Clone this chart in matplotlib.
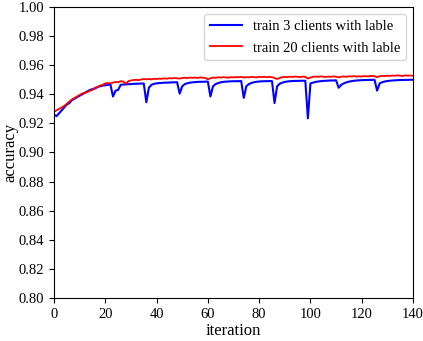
import numpy as np
import matplotlib
matplotlib.use('Agg')
import matplotlib.pyplot as plt

plt.rcParams['font.family'] = 'Liberation Serif'
plt.rcParams['mathtext.fontset'] = 'stix'

# accuracy per iteration (0..140)
acc_3 = [
    0.926, 0.925, 0.927, 0.929, 0.931, 0.933, 0.934, 0.936, 0.937, 0.938,
    0.939, 0.940, 0.941, 0.942, 0.943, 0.9435, 0.944, 0.945, 0.9455, 0.946,
    0.9462, 0.9465, 0.9467, 0.9385, 0.9425, 0.943, 0.9465, 0.9467, 0.9468, 0.947,
    0.947, 0.9472, 0.9472, 0.9473, 0.9474, 0.9474, 0.9345, 0.9445, 0.9465, 0.9472,
    0.9475, 0.9477, 0.9478, 0.948, 0.948, 0.9481, 0.9482, 0.9482, 0.9483, 0.9405,
    0.9455, 0.947, 0.9476, 0.948, 0.9482, 0.9484, 0.9485, 0.9486, 0.9486, 0.9487,
    0.9487, 0.9385, 0.9455, 0.947, 0.9477, 0.9482, 0.9485, 0.9487, 0.9488, 0.9489,
    0.949, 0.949, 0.949, 0.9491, 0.9375, 0.9455, 0.947, 0.9478, 0.9483, 0.9486,
    0.9488, 0.9489, 0.949, 0.949, 0.9491, 0.9491, 0.934, 0.9455, 0.9472, 0.948,
    0.9485, 0.9488, 0.949, 0.9491, 0.9492, 0.9492, 0.9493, 0.9493, 0.9493, 0.9235,
    0.9475, 0.948, 0.9485, 0.9488, 0.949, 0.9492, 0.9493, 0.9494, 0.9495, 0.9495,
    0.9496, 0.9445, 0.9465, 0.9475, 0.9482, 0.9487, 0.949, 0.9493, 0.9495, 0.9496,
    0.9497, 0.9498, 0.9498, 0.9499, 0.9499, 0.950, 0.9425, 0.9475, 0.9483, 0.9488,
    0.9491, 0.9493, 0.9495, 0.9496, 0.9497, 0.9498, 0.9498, 0.9499, 0.9499, 0.950,
    0.950,
]

acc_20 = [
    0.928, 0.929, 0.930, 0.931, 0.932, 0.9335, 0.935, 0.9365, 0.9375, 0.9385,
    0.9395, 0.9405, 0.941, 0.9415, 0.9425, 0.943, 0.9445, 0.945, 0.946, 0.9465,
    0.9475, 0.9478, 0.9475, 0.948, 0.9485, 0.9483, 0.949, 0.9488, 0.9472, 0.949,
    0.9495, 0.9498, 0.950, 0.9497, 0.9502, 0.9505, 0.9503, 0.9505, 0.9502, 0.9507,
    0.9505, 0.9508, 0.9506, 0.951, 0.9507, 0.9511, 0.9509, 0.9512, 0.951, 0.9508,
    0.9512, 0.9514, 0.9511, 0.9515, 0.9513, 0.9515, 0.9512, 0.9516, 0.9514, 0.9512,
    0.9503, 0.951, 0.9515, 0.9513, 0.9517, 0.9515, 0.9518, 0.9516, 0.9514, 0.9518,
    0.9516, 0.9519, 0.9517, 0.952, 0.9515, 0.9518, 0.9516, 0.952, 0.9518, 0.9516,
    0.952, 0.9518, 0.9521, 0.9517, 0.952, 0.9518, 0.9512, 0.9505, 0.9512, 0.9518,
    0.952, 0.9518, 0.9521, 0.9519, 0.9522, 0.952, 0.9518, 0.9522, 0.952, 0.9508,
    0.9515, 0.952, 0.9522, 0.952, 0.9523, 0.9521, 0.9519, 0.9522, 0.952, 0.9523,
    0.9521, 0.9516, 0.9521, 0.9523, 0.952, 0.9524, 0.9522, 0.9525, 0.9521, 0.9524,
    0.9522, 0.9526, 0.9523, 0.9525, 0.9527, 0.9524, 0.9518, 0.9524, 0.9527, 0.9525,
    0.9528, 0.9526, 0.9529, 0.9527, 0.953, 0.9528, 0.9526, 0.953, 0.9528, 0.9529,
    0.9527,
]

iters = np.arange(len(acc_3))

fig = plt.figure(figsize=(4.23, 3.41), dpi=100)
ax = fig.add_axes([0.1277, 0.1261, 0.8487, 0.8534])

ax.plot(iters, acc_3, color='blue', lw=1.5, label='train 3 clients with lable')
ax.plot(iters, acc_20, color='red', lw=1.3, label='train 20 clients with lable')

ax.set_xlim(0, 140)
ax.set_ylim(0.80, 1.00)
ax.set_xticks(np.arange(0, 141, 20))
ax.set_yticks(np.arange(0.80, 1.001, 0.02))
ax.yaxis.set_major_formatter(matplotlib.ticker.FormatStrFormatter('%.2f'))
ax.tick_params(labelsize=10.5, length=3.5)
ax.set_xlabel('iteration', fontsize=12, labelpad=2)
ax.set_ylabel('accuracy', fontsize=12, labelpad=0)

ax.legend(loc='upper right', fontsize=10.5, handlelength=2.2,
          handletextpad=0.7, labelspacing=0.55)

fig.savefig('out.png', dpi=100)
